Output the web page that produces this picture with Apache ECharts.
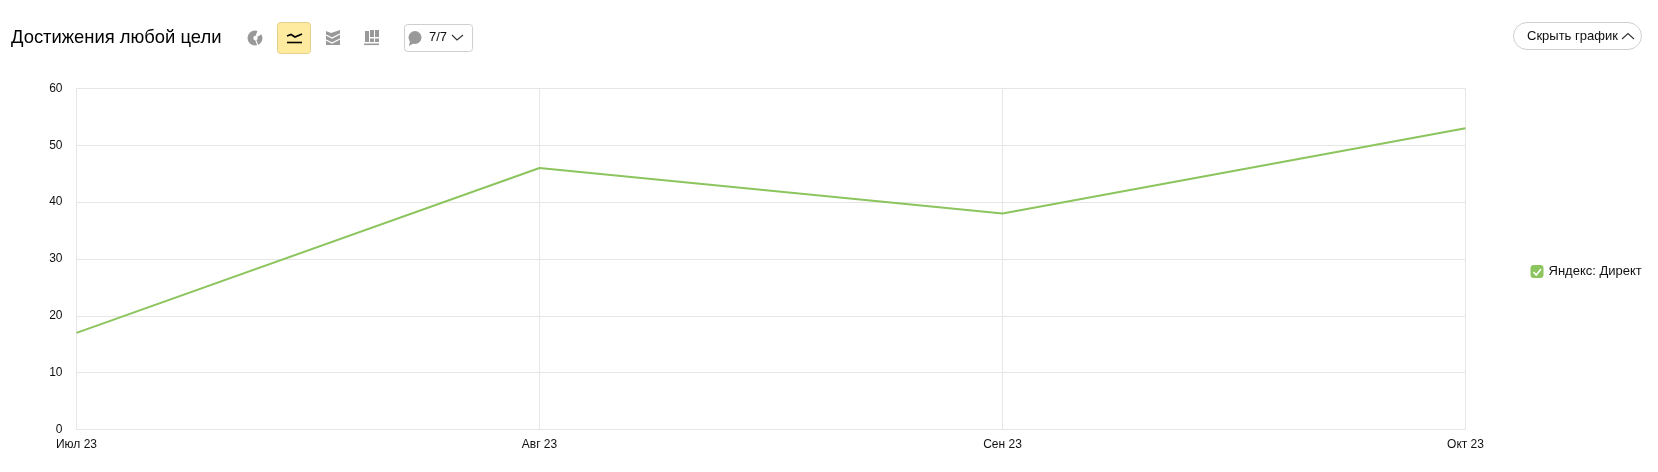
<!DOCTYPE html>
<html><head><meta charset="utf-8">
<style>html,body{margin:0;padding:0;background:#fff}#c{width:1658px;height:472px}</style>
<script src="https://cdn.jsdelivr.net/npm/echarts@6/dist/echarts.min.js"></script>
</head><body><div id="c"></div>
<script>
const categories = ['Июл 23','Авг 23','Сен 23','Окт 23'];
const seriesName = 'Яндекс: Директ';
const seriesValues = [17,46,38,53];
const yTicks = {min:0,max:60,interval:10};
const titleText = 'Достижения любой цели';
const counterText = '7/7';
const hideText = 'Скрыть график';
const F = '"Liberation Sans",Arial,sans-serif';
const GREEN = '#8cc45e', GRID = '#e6e6e6', ICON='#999999';
const chart = echarts.init(document.getElementById('c'),null,{renderer:'canvas'});
const line=(pts,stroke,w)=>({type:'polyline',shape:{points:pts},style:{stroke:stroke,lineWidth:w||1.5,fill:null},silent:true,z:20});
const rect=(x,y,w,h,fill)=>({type:'rect',shape:{x,y,width:w,height:h},style:{fill},silent:true,z:20});
chart.setOption({
  animation:false,
  backgroundColor:'#fff',
  grid:{left:76.5,right:192.5,top:88.5,bottom:42.5,containLabel:false,show:false},
  xAxis:{type:'category',data:categories,boundaryGap:false,
    axisLine:{show:true,lineStyle:{color:GRID,width:1}},axisTick:{show:false},
    splitLine:{show:true,lineStyle:{color:GRID,width:1}},
    axisLabel:{color:'#111',fontFamily:F,fontSize:12,margin:9,showMinLabel:true,showMaxLabel:true,hideOverlap:false}},
  yAxis:{type:'value',min:yTicks.min,max:yTicks.max,interval:yTicks.interval,
    axisLine:{show:true,lineStyle:{color:GRID,width:1}},axisTick:{show:false},
    splitLine:{show:true,lineStyle:{color:GRID,width:1}},
    axisLabel:{color:'#111',fontFamily:F,fontSize:12,margin:14,padding:[4,0,0,0]}},
  legend:{show:true,orient:'vertical',left:1525.5,top:260,padding:5,itemWidth:13,itemHeight:13,itemGap:8,
    icon:'roundRect',data:[seriesName],selectedMode:false,
    textStyle:{color:'#111',fontFamily:F,fontSize:13,padding:[2,0,0,0]}},
  series:[{name:seriesName,type:'line',data:seriesValues,symbol:'none',
    lineStyle:{color:GREEN,width:2},itemStyle:{color:GREEN}}],
  graphic:{elements:[
    {type:'text',left:11,top:29,style:{text:titleText,font:'18.4px '+F,fill:'#000'},silent:true},
    // pie icon
    {type:'circle',shape:{cx:255,cy:38,r:7.5},style:{fill:ICON},silent:true,z:10},
    {type:'polygon',shape:{points:[[255,38],[258,29],[264,33]]},style:{fill:'#fff'},silent:true,z:20},
    {type:'circle',shape:{cx:255.5,cy:38,r:2.2},style:{fill:'#fff'},silent:true,z:20},
    line([[255,38],[258,46]],'#fff',1.2),
    // active line button
    {type:'rect',shape:{x:277.5,y:22.5,width:33,height:31,r:3},style:{fill:'#ffeba0',stroke:'#e3cf8c',lineWidth:1},silent:true},
    line([[287,36],[291,34.5],[295,37],[302,34]],'#000',1.8),
    line([[287,42.5],[302,42.5]],'#000',1.6),
    // stacked area icon: grey block cut by white zigzags
    {type:'polygon',shape:{points:[[326,31],[331,33],[340,30],[340,45],[326,45]]},style:{fill:ICON},silent:true,z:10},
    line([[326,35],[332,38],[340,34]],'#fff',1.3),
    line([[326,40],[332,43],[340,39]],'#fff',1.3),
    // bars icon
    rect(365,31,4,11,ICON),rect(370,30,4,7,ICON),rect(370,38.5,4,3.5,ICON),
    rect(375,30,4,7,ICON),rect(375,38.5,4,3.5,ICON),rect(364,43.5,15,1.6,ICON),
    // counter dropdown
    {type:'rect',shape:{x:404.5,y:24.5,width:68,height:27,r:3},style:{fill:'#fff',stroke:'#cfcfcf',lineWidth:1},silent:true},
    {type:'circle',shape:{cx:415,cy:37.5,r:6.5},style:{fill:ICON},silent:true,z:10},
    {type:'polygon',shape:{points:[[410,41],[414,43],[409,46]]},style:{fill:ICON},silent:true,z:10},
    {type:'text',left:429,top:31,style:{text:counterText,font:'13px '+F,fill:'#111'},silent:true,z:10},
    line([[452,35],[457,40],[463,35]],'#333',1.1),
    // hide-chart button
    {type:'rect',shape:{x:1513.5,y:22.5,width:128,height:27,r:13.5},style:{fill:'#fff',stroke:'#cfcfcf',lineWidth:1},silent:true},
    {type:'text',left:1527,top:30,style:{text:hideText,font:'13px '+F,fill:'#111'},silent:true,z:10},
    line([[1622,39],[1628,33.5],[1634,39]],'#333',1.1),
    // legend check
    line([[1533.5,272],[1536.2,275],[1541,269]],'#fff',1.6)
  ]}
});
</script></body></html>
